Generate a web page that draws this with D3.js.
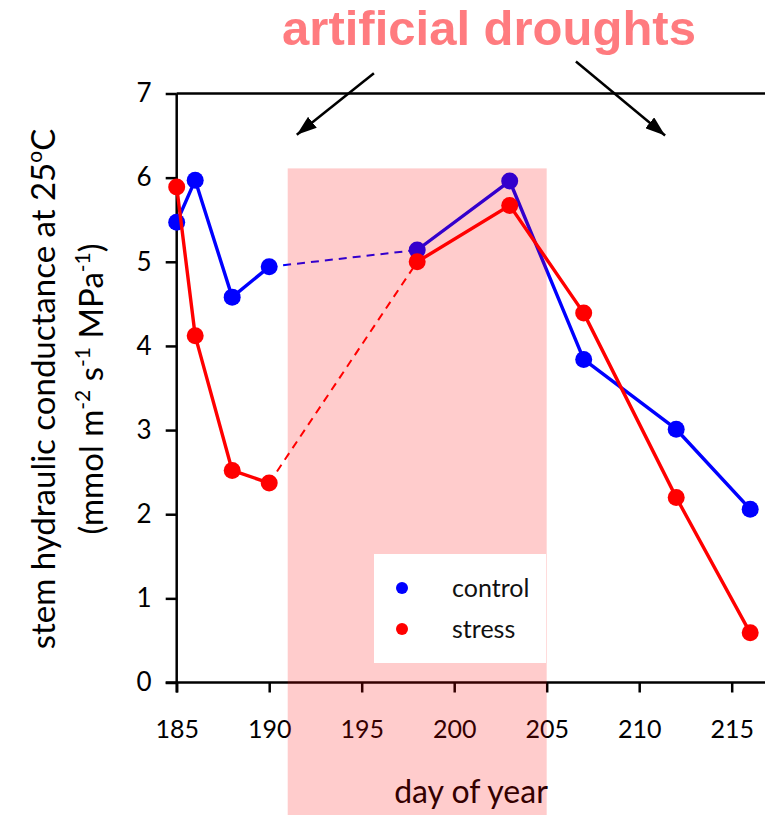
<!DOCTYPE html>
<html>
<head>
<meta charset="utf-8">
<script src="https://cdn.jsdelivr.net/npm/d3@7"></script>
<style>
  body { margin: 0; background: #fff; }
  svg { display: block; }
  text { font-family: Lato, "Open Sans", sans-serif; }
</style>
</head>
<body>
<svg id="chart" width="765" height="815"></svg>
<script>
const svg = d3.select("#chart");

// data
const days = [185, 186, 188, 190, 198, 203, 207, 212, 216];
const controlValues = [5.47, 5.97, 4.58, 4.94, 5.14, 5.96, 3.84, 3.01, 2.06];
const stressValues = [5.89, 4.12, 2.52, 2.37, 5.0, 5.67, 4.39, 2.20, 0.59];
const xTicks = [185, 190, 195, 200, 205, 210, 215];
const yTicks = [0, 1, 2, 3, 4, 5, 6, 7];
const droughtSpan = [191, 205];
const droughtTop = 6.11;
const gapDays = [190, 198];   // no measurements in between -> dashed

const seriesList = [
    {name: "control", color: "#0000ff", values: controlValues},
    {name: "stress", color: "#ff0000", values: stressValues},
];

// arrows for the "artificial droughts" note, in data units
const arrows = [
    {x1: 195.66, y1: 7.24, x2: 191.49, y2: 6.51},
    {x1: 206.58, y1: 7.38, x2: 211.40, y2: 6.50},
];

let xscale = d3.scaleLinear()
            .domain([185, 217])
            .range([176.7, 768.7]);

let yscale = d3.scaleLinear()
            .domain([0, 7])
            .range([682.5, 93.5]);

const LINE_W = 3.4;
const DOTSIZE = 8.5;

function main() {
    drawAxes();
    drawSeries();
    drawOverlay();
    drawLegend();
    drawNotes();
}

function drawAxes() {
    const yAxis = svg.append("g")
        .attr("transform", `translate(${xscale(185)},0)`)
        .call(d3.axisLeft(yscale).tickValues(yTicks).tickSize(11).tickPadding(14)
            .tickSizeOuter(0).tickFormat(d3.format("d")));
    yAxis.select(".domain").attr("stroke-width", 2.5)
        .attr("d", `M0,${yscale(0) + 10}V${yscale(7)}`);
    yAxis.selectAll(".tick line").attr("stroke-width", 2.5);
    yAxis.selectAll(".tick text")
        .attr("font-size", 26)
        .attr("font-family", "Lato")
        .attr("fill", "#000");

    const xAxis = svg.append("g")
        .attr("transform", `translate(0,${yscale(0)})`)
        .call(d3.axisBottom(xscale).tickValues(xTicks).tickSize(10).tickSizeOuter(0).tickFormat(d3.format("d")));
    xAxis.select(".domain").attr("stroke-width", 2.5)
        .attr("d", `M${xscale(185) - 11},0H765`);
    xAxis.selectAll(".tick line").attr("stroke-width", 2.5);
    xAxis.selectAll(".tick text")
        .attr("font-size", 25)
        .attr("font-family", "Lato")
        .attr("fill", "#000")
        .attr("y", 55)
        .attr("dy", null);

    // top frame line
    svg.append("line")
        .attr("x1", xscale(185)).attr("x2", 765)
        .attr("y1", yscale(7)).attr("y2", yscale(7))
        .attr("stroke", "#000").attr("stroke-width", 2.5);

    svg.append("text")
        .attr("x", 471)
        .attr("y", 803)
        .attr("text-anchor", "middle")
        .attr("font-size", 32)
        .text("day of year");

    const ytitle = svg.append("g")
        .attr("transform", "translate(0,389) rotate(-90)");
    const l1 = ytitle.append("text")
        .attr("x", 0).attr("y", 55)
        .attr("text-anchor", "middle")
        .attr("font-size", 33);
    l1.append("tspan").text("stem hydraulic conductance at 25");
    l1.append("tspan").attr("dy", -13).attr("font-size", 21).text("o");
    l1.append("tspan").attr("dy", 13).text("C");

    const l2 = ytitle.append("text")
        .attr("x", 0).attr("y", 103)
        .attr("text-anchor", "middle")
        .attr("font-size", 33);
    l2.append("tspan").text("(mmol m");
    l2.append("tspan").attr("dy", -13).attr("font-size", 21).text("-2");
    l2.append("tspan").attr("dy", 13).text(" s");
    l2.append("tspan").attr("dy", -13).attr("font-size", 21).text("-1");
    l2.append("tspan").attr("dy", 13).text(" MPa");
    l2.append("tspan").attr("dy", -13).attr("font-size", 21).text("-1");
    l2.append("tspan").attr("dy", 13).text(")");
}

function drawSeries() {
    const line = d3.line()
        .x(d => xscale(d.day))
        .y(d => yscale(d.value));

    seriesList.forEach(s => {
        const pts = days.map((day, i) => ({day: day, value: s.values[i]}));
        const before = pts.filter(p => p.day <= gapDays[0]);
        const gap = pts.filter(p => p.day >= gapDays[0] && p.day <= gapDays[1]);
        const after = pts.filter(p => p.day >= gapDays[1]);
        const g = svg.append("g").attr("class", "series-" + s.name);

        g.append("path").datum(gap)
            .attr("d", line)
            .attr("fill", "none")
            .attr("stroke", s.color)
            .attr("stroke-width", 2)
            .attr("stroke-dasharray", "8,6");
        [before, after].forEach(part => {
            g.append("path").datum(part)
                .attr("d", line)
                .attr("fill", "none")
                .attr("stroke", s.color)
                .attr("stroke-width", LINE_W)
                .attr("stroke-linejoin", "round");
        });
        g.selectAll(".points").data(pts).join("circle")
            .attr("class", "points")
            .attr("cx", d => xscale(d.day))
            .attr("cy", d => yscale(d.value))
            .attr("r", DOTSIZE)
            .attr("fill", s.color);
    });
}

function drawOverlay() {
    // translucent red block on top of everything -> pink
    svg.append("rect")
        .attr("x", xscale(droughtSpan[0]))
        .attr("y", yscale(droughtTop))
        .attr("width", xscale(droughtSpan[1]) - xscale(droughtSpan[0]))
        .attr("height", 815 - yscale(droughtTop))
        .attr("fill", "#ff0000")
        .attr("opacity", 0.2);
}

function drawLegend() {
    const lg = svg.append("g");
    lg.append("rect")
        .attr("x", 374).attr("y", 554)
        .attr("width", 172).attr("height", 109)
        .attr("fill", "#fff");
    seriesList.forEach((s, i) => {
        lg.append("circle")
            .attr("cx", 402).attr("cy", 588 + i * 41)
            .attr("r", 6)
            .attr("fill", s.color);
        lg.append("text")
            .attr("x", 452).attr("y", 597 + i * 41)
            .attr("font-size", 25)
            .attr("fill", "#111")
            .text(s.name);
    });
}

function drawNotes() {
    svg.append("defs").append("marker")
        .attr("id", "head")
        .attr("viewBox", "0 0 10 7")
        .attr("refX", 10).attr("refY", 3.5)
        .attr("markerWidth", 8).attr("markerHeight", 5.6)
        .attr("markerUnits", "strokeWidth")
        .attr("orient", "auto")
        .append("path")
        .attr("d", "M0,0L10,3.5L0,7z")
        .attr("fill", "#000");

    svg.selectAll(".arrow").data(arrows).join("line")
        .attr("class", "arrow")
        .attr("x1", d => xscale(d.x1)).attr("y1", d => yscale(d.y1))
        .attr("x2", d => xscale(d.x2)).attr("y2", d => yscale(d.y2))
        .attr("stroke", "#000")
        .attr("stroke-width", 2.5)
        .attr("marker-end", "url(#head)");

    svg.append("text")
        .attr("x", 489)
        .attr("y", 45)
        .attr("text-anchor", "middle")
        .style("font-family", "'Liberation Sans', Arial, sans-serif")
        .attr("font-weight", "bold")
        .attr("font-size", 49)
        .attr("fill", "#ff7b7f")
        .text("artificial droughts");
}

main();
</script>
</body>
</html>
